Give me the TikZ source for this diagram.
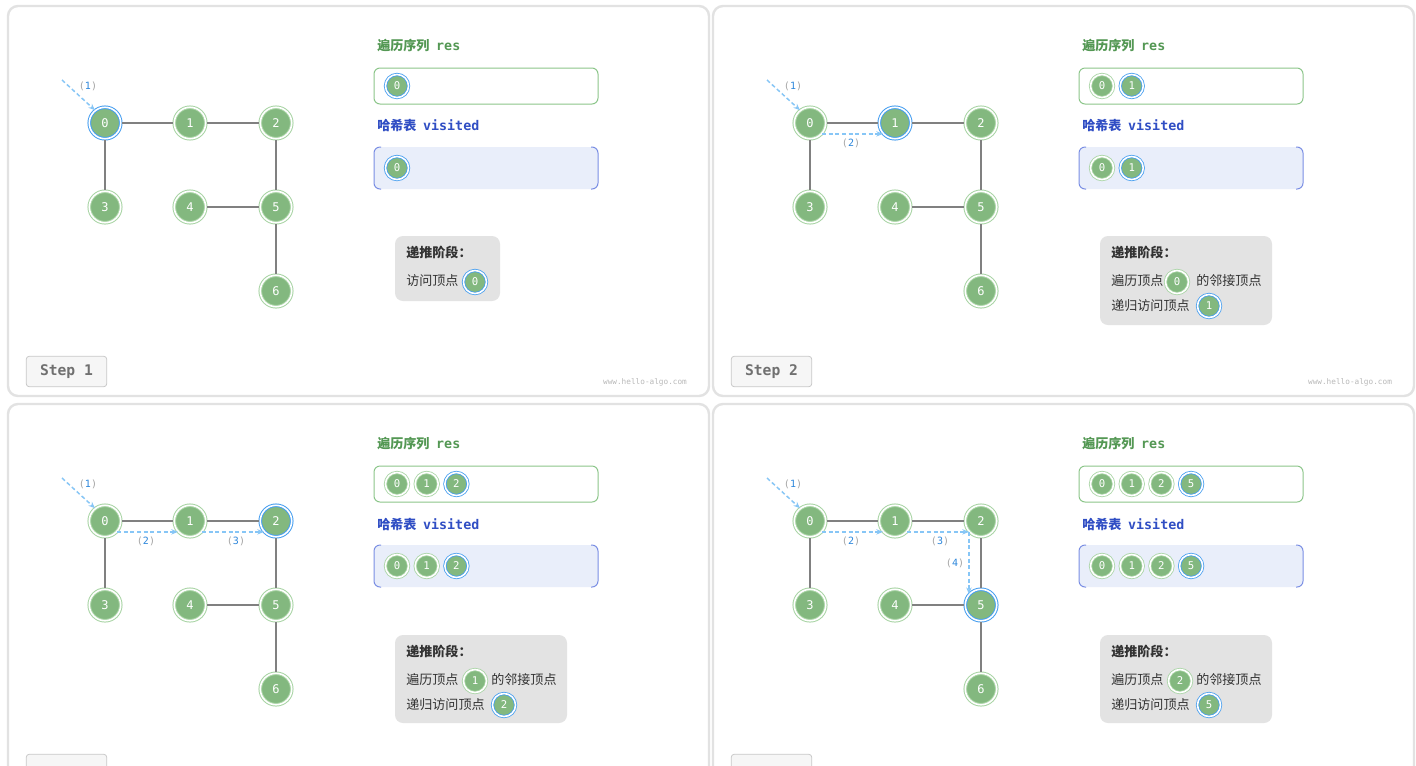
\documentclass[tikz,border=0pt]{standalone}
\usepackage{fontspec}
\setmainfont{Noto Sans CJK SC}
\newfontfamily\cjk{Noto Sans CJK SC}
\newfontfamily\mono{DejaVu Sans Mono}
\usetikzlibrary{arrows.meta,calc}

\definecolor{ngreen}{RGB}{131,184,127}
\definecolor{ringgreen}{RGB}{168,212,164}
\definecolor{ringblue}{RGB}{70,158,240}
\definecolor{edgegray}{RGB}{128,128,128}
\definecolor{traceblue}{RGB}{135,198,246}
\definecolor{lblblue}{RGB}{45,135,220}
\definecolor{lblgray}{RGB}{165,165,165}
\definecolor{titlegreen}{RGB}{84,152,84}
\definecolor{titleblue}{RGB}{48,78,196}
\definecolor{resborder}{RGB}{140,198,138}
\definecolor{visfillc}{RGB}{233,238,250}
\definecolor{visborder}{RGB}{122,142,228}
\definecolor{infofill}{RGB}{227,227,227}
\definecolor{infotext}{RGB}{50,50,50}
\definecolor{stepfill}{RGB}{246,246,246}
\definecolor{stepborder}{RGB}{200,200,200}
\definecolor{steptext}{RGB}{112,112,112}
\definecolor{framegray}{RGB}{226,226,226}
\definecolor{wmgray}{RGB}{185,185,185}

\tikzset{
  vtx/.style={circle, inner sep=0pt, minimum size=23.6pt, fill=ngreen, draw=ringgreen,
    line width=0.75pt, double=white, double distance=1.2pt, text=white,
    font=\mono\fontsize{9}{10}\selectfont},
  hl/.style={draw=ringblue},
  svtx/.style={vtx, minimum size=17.3pt, line width=0.6pt, double distance=1.2pt,
    font=\mono\fontsize{8}{9}\selectfont},
  gedge/.style={draw=edgegray, line width=1.5pt, shorten <=0.8pt, shorten >=0.8pt},
  tracearrow/.style={draw=traceblue, line width=1.1pt, dash pattern=on 3pt off 2pt,
    -{Stealth[length=5pt,width=4pt]}},
  lbl/.style={font=\mono\fontsize{7.5}{9}\selectfont, inner sep=0pt},
  panelframe/.style={draw=framegray, line width=1.8pt, fill=white, rounded corners=7.5pt},
  stepbtn/.style={draw=stepborder, fill=stepfill, line width=0.6pt, rounded corners=2.5pt,
    minimum width=60.5pt, minimum height=23pt, inner sep=0pt, text=steptext,
    font=\mono\bfseries\fontsize{11}{13}\selectfont},
  wmark/.style={text=wmgray, font=\mono\fontsize{5.8}{7}\selectfont, inner sep=0pt},
  restitle/.style={text=titlegreen, font=\cjk\bfseries\fontsize{9.8}{12}\selectfont,
    inner sep=0pt, anchor=west},
  vistitle/.style={restitle, text=titleblue},
  resbox/.style={draw=resborder, line width=0.75pt, fill=white, rounded corners=4.5pt},
  visbox/.style={fill=visfillc, rounded corners=4.5pt},
  visside/.style={draw=visborder, line width=0.75pt, rounded corners=4.5pt},
  infobox/.style={fill=infofill, rounded corners=6pt},
  infotxt/.style={text=infotext, font=\cjk\fontsize{9.8}{12}\selectfont, inner sep=0pt, anchor=west},
  infohead/.style={infotxt, font=\cjk\bfseries\fontsize{9.8}{12}\selectfont},
}

% graph with seven vertices; #2 is the vertex being visited
\newcommand\drawgraph[2]{%
  \foreach \k/\x/\y in {0/105/123,1/190/123,2/276/123,3/105/207,4/190/207,5/276/207,6/276/291}{%
    \ifnum\k=#2\relax
      \node[vtx,hl] (#1\k) at (\x,\y) {\k};
    \else
      \node[vtx] (#1\k) at (\x,\y) {\k};
    \fi}
  \foreach \a/\b in {0/1,1/2,0/3,2/5,4/5,5/6}
    \draw[gedge] (#1\a) -- (#1\b);
}

% frame, list titles and boxes
\newcommand\paneldecor[1]{%
  \draw[panelframe] (8,6) rectangle (709,396);
  \node[restitle] (#1rt) at (377,46) {遍历序列\hspace{5pt}{\mono\fontsize{10}{12}\selectfont res}};
  \draw[resbox] (374,68) rectangle (598,104);
  \node[vistitle] (#1vt) at (377,126) {哈希表\hspace{5pt}{\mono\fontsize{10}{12}\selectfont visited}};
  \path[visbox] (374,147) rectangle (598,189);
  \draw[visside] (381,147) -- (374,147) -- (374,189) -- (381,189);
  \draw[visside] (591,147) -- (598,147) -- (598,189) -- (591,189);
}

% row of small vertices inside a box; #4 is the highlighted value
\newcommand\listnodes[4]{%
  \foreach \v [count=\i from 0] in {#3}{%
    \ifnum\v=#4\relax
      \node[svtx,hl] (#1\i) at (397+29.7*\i,#2) {\v};
    \else
      \node[svtx] (#1\i) at (397+29.7*\i,#2) {\v};
    \fi}}

\newcommand\steplabel[4]{%
  \node[lbl] (#1) at (#2,#3) {{\color{lblgray}(}{\color{lblblue}#4}{\color{lblgray})}};}

\newcommand\firstarrow[1]{%
  \coordinate (#1s) at (62,80);
  \draw[tracearrow] (#1s) -- (#10.128);
  \steplabel{#1l1}{88}{86}{1}}

\begin{document}
\begin{tikzpicture}[x=0.75pt,y=-0.75pt]
\useasboundingbox (0,0) rectangle (1416,765);
\clip (0,0) rectangle (1416,765);
\fill[white] (0,0) rectangle (1416,765);

% ---- step 1 ----
\begin{scope}
  \paneldecor{a}
  \node[stepbtn] (astep) at (66.5,371.5) {Step 1};
  \node[wmark] (awm) at (645,382) {www.hello-algo.com};
  \drawgraph{a}{0}
  \firstarrow{a}
  \listnodes{ar}{86}{0}{0}
  \listnodes{av}{168}{0}{0}
  \path[infobox] (395,236) rectangle (500,301);
  \node[infohead] (aih) at (406,252) {递推阶段：};
  \node[infotxt] (ait1) at (406,281) {访问顶点};
  \node[svtx,hl] (ain1) at (475,282) {0};
\end{scope}

% ---- step 2 ----
\begin{scope}[shift={(705,0)}]
  \paneldecor{b}
  \node[stepbtn] (bstep) at (66.5,371.5) {Step 2};
  \node[wmark] (bwm) at (645,382) {www.hello-algo.com};
  \drawgraph{b}{1}
  \firstarrow{b}
  \draw[tracearrow] (b0.-42) -- (b1.-138);
  \steplabel{bl2}{146}{143}{2}
  \listnodes{br}{86}{0,1}{1}
  \listnodes{bv}{168}{0,1}{1}
  \path[infobox] (395,236) rectangle (567,325);
  \node[infohead] (bih) at (406,252) {递推阶段：};
  \node[infotxt] (bit1) at (406,281) {遍历顶点};
  \node[svtx] (bin1) at (472,282) {0};
  \node[infotxt] (bit2) at (491,281) {的邻接顶点};
  \node[infotxt] (bit3) at (406,306) {递归访问顶点};
  \node[svtx,hl] (bin2) at (504,306) {1};
\end{scope}

% ---- step 3 ----
\begin{scope}[shift={(0,398)}]
  \paneldecor{c}
  \node[stepbtn] (cstep) at (66.5,371.5) {};
  \drawgraph{c}{2}
  \firstarrow{c}
  \draw[tracearrow] (c0.-42) -- (c1.-138);
  \draw[tracearrow] (c1.-42) -- (c2.-138);
  \steplabel{cl2}{146}{143}{2}
  \steplabel{cl3}{236}{143}{3}
  \listnodes{cr}{86}{0,1,2}{2}
  \listnodes{cv}{168}{0,1,2}{2}
  \path[infobox] (395,237) rectangle (567,325);
  \node[infohead] (cih) at (406,253) {递推阶段：};
  \node[infotxt] (cit1) at (406,282) {遍历顶点};
  \node[svtx] (cin1) at (475,283) {1};
  \node[infotxt] (cit2) at (491,282) {的邻接顶点};
  \node[infotxt] (cit3) at (406,307) {递归访问顶点};
  \node[svtx,hl] (cin2) at (504,307) {2};
\end{scope}

% ---- step 4 ----
\begin{scope}[shift={(705,398)}]
  \paneldecor{d}
  \node[stepbtn] (dstep) at (66.5,371.5) {};
  \drawgraph{d}{5}
  \firstarrow{d}
  \draw[tracearrow] (d0.-42) -- (d1.-138);
  \coordinate (dc) at (d5.138 |- d1.-42);
  \draw[tracearrow] (d1.-42) -- (dc);
  \draw[tracearrow] (dc) -- (d5.138);
  \steplabel{dl2}{146}{143}{2}
  \steplabel{dl3}{235}{143}{3}
  \steplabel{dl4}{250}{165}{4}
  \listnodes{dr}{86}{0,1,2,5}{5}
  \listnodes{dv}{168}{0,1,2,5}{5}
  \path[infobox] (395,237) rectangle (567,325);
  \node[infohead] (dih) at (406,253) {递推阶段：};
  \node[infotxt] (dit1) at (406,282) {遍历顶点};
  \node[svtx] (din1) at (475,283) {2};
  \node[infotxt] (dit2) at (491,282) {的邻接顶点};
  \node[infotxt] (dit3) at (406,307) {递归访问顶点};
  \node[svtx,hl] (din2) at (504,307) {5};
\end{scope}
\end{tikzpicture}
\end{document}
